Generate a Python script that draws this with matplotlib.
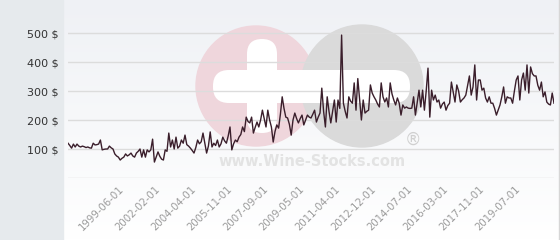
import numpy as np
import matplotlib
matplotlib.use('Agg')
import matplotlib.pyplot as plt
from matplotlib.patches import Circle, Rectangle, FancyBboxPatch
from matplotlib.colors import LinearSegmentedColormap

# price per bottle, one value per observation
prices = [
    120, 112, 103, 117, 107, 117, 110, 107, 110, 108,
    105, 107, 104, 103, 120, 114, 115, 117, 131, 97,
    99, 100, 100, 110, 104, 100, 83, 76, 72, 62,
    68, 72, 83, 76, 80, 86, 76, 72, 86, 92,
    100, 72, 97, 72, 97, 90, 97, 134, 55, 72,
    90, 75, 65, 62, 97, 92, 155, 107, 131, 100,
    141, 103, 110, 131, 120, 148, 115, 110, 103, 95,
    86, 105, 131, 118, 125, 155, 120, 86, 110, 159,
    107, 120, 112, 131, 107, 118, 141, 128, 120, 145,
    176, 97, 118, 131, 125, 141, 150, 176, 160, 210,
    195, 190, 210, 155, 175, 193, 176, 200, 234, 205,
    176, 234, 200, 176, 124, 160, 183, 172, 220, 280,
    240, 210, 207, 185, 148, 200, 224, 205, 190, 205,
    217, 183, 200, 217, 210, 207, 220, 234, 193, 210,
    224, 310, 230, 176, 280, 230, 190, 230, 269, 193,
    269, 240, 493, 258, 230, 207, 280, 265, 258, 328,
    234, 343, 270, 200, 269, 224, 230, 234, 321, 293,
    280, 269, 255, 245, 328, 280, 262, 276, 245, 328,
    290, 269, 252, 276, 258, 217, 252, 241, 245, 241,
    240, 241, 280, 217, 260, 303, 245, 303, 234, 300,
    379, 210, 303, 269, 286, 262, 269, 241, 255, 262,
    234, 250, 258, 331, 297, 262, 321, 300, 262, 270,
    276, 286, 320, 352, 286, 314, 390, 269, 338, 338,
    303, 310, 276, 262, 280, 258, 258, 240, 217, 234,
    252, 280, 314, 258, 280, 276, 276, 258, 300, 338,
    352, 269, 338, 362, 303, 390, 293, 383, 360, 352,
    352, 320, 303, 331, 280, 297, 262, 255, 252, 293,
    258,
]
tick_pos = [30, 50, 70, 90, 110, 130, 150, 170, 190, 210, 230, 250]
tick_dates = ['1999-06-01', '2002-02-01', '2004-04-01', '2005-11-01',
              '2007-09-01', '2009-05-01', '2011-04-01', '2012-12-01',
              '2014-07-01', '2016-03-01', '2017-11-01', '2019-07-01']
y_ticks = [0, 100, 200, 300, 400, 500]

fig = plt.figure(figsize=(5.6, 2.4), dpi=100)

# background, side panel and watermark, in pixel coordinates
bg = fig.add_axes([0, 0, 1, 1])
bg.set_xlim(0, 560)
bg.set_ylim(240, 0)
bg.axis('off')
cmap = LinearSegmentedColormap.from_list('bg', ['#eff1f5', '#ffffff'])
bg.imshow(np.linspace(0, 1, 240).reshape(-1, 1), extent=[63, 560, 240, 0],
          aspect='auto', cmap=cmap, zorder=0)
bg.add_patch(Rectangle((0, 0), 63, 240, color='#e6eaed', zorder=1))
bg.plot([558.5, 558.5], [0, 240], color='#d6d6d6', lw=1, zorder=1)

bg.add_patch(Circle((256, 86), 60, color='#efd6dc', zorder=2))
bg.add_patch(Circle((362, 86), 61, color='#dadada', zorder=3))
bg.add_patch(FancyBboxPatch((247, 39), 30, 94, boxstyle='round,pad=0,rounding_size=15',
                            fc='white', ec='none', zorder=4))
bg.add_patch(FancyBboxPatch((213, 70), 197, 33, boxstyle='round,pad=0,rounding_size=16',
                            fc='white', ec='none', zorder=4))
bg.text(312, 162, 'www.Wine-Stocks.com', fontsize=10.5, fontweight='bold',
        color='#e3e3e3', ha='center', va='center', zorder=5)
bg.text(413, 140, '®', fontsize=12, color='#d0d0d0', ha='center', va='center', zorder=5)

# price chart
ax = fig.add_axes([68 / 560, 62 / 240, 486 / 560, 158 / 240])
ax.set_facecolor('none')
ax.plot(range(len(prices)), prices, color='#3a1e2b', lw=1, zorder=3)
ax.set_xlim(0, len(prices) - 1)
ax.set_ylim(0, 545)

ax.set_yticks(y_ticks)
ax.set_yticklabels([''] + [f'{v} $' for v in y_ticks[1:]], fontsize=8, color='#333333')
ax.set_xticks(tick_pos)
ax.set_xticklabels(tick_dates, rotation=45, ha='right', va='center',
                   rotation_mode='anchor', fontsize=7.3, color='#9a9a9a')
ax.tick_params(axis='y', length=0, pad=6.5)
ax.tick_params(axis='x', length=0, pad=7)
ax.grid(axis='y', color='#dcdcdc', lw=1)
ax.grid(axis='x', visible=False)
for s in ax.spines.values():
    s.set_visible(False)

plt.savefig('out.png', dpi=100)
plt.close()
